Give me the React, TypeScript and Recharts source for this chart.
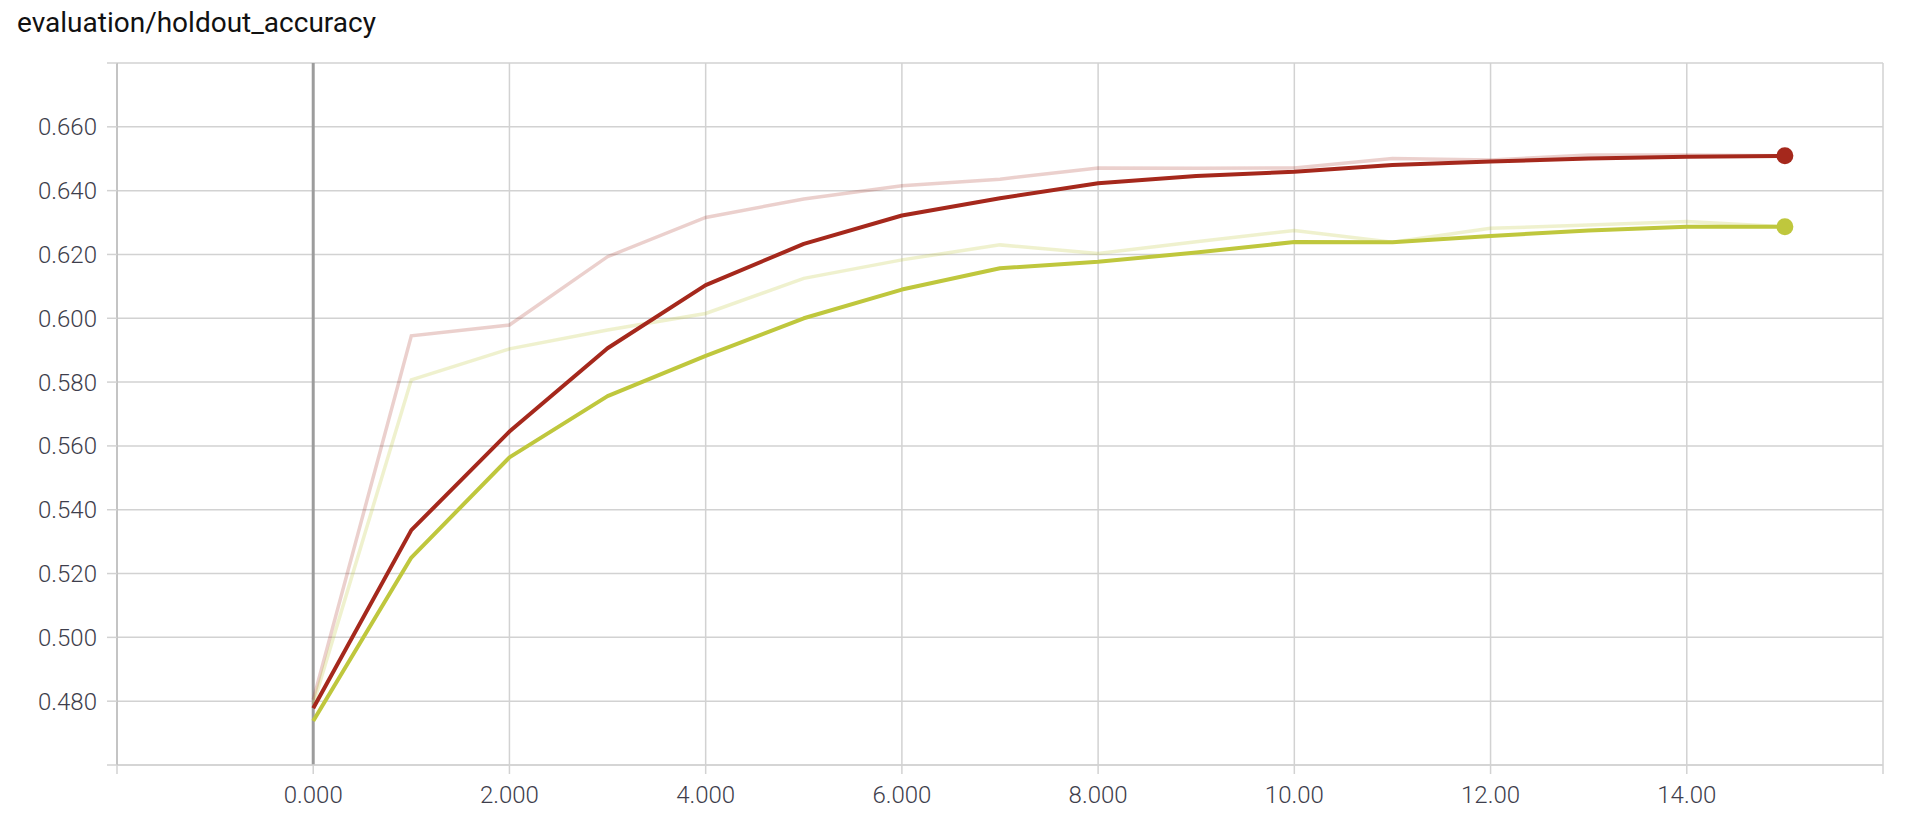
import { LineChart, Line, XAxis, YAxis, CartesianGrid, ReferenceLine } from 'recharts';

// ─── Data ─────────────────────────────────────────────────────────────────────

const steps = [0, 1, 2, 3, 4, 5, 6, 7, 8, 9, 10, 11, 12, 13, 14, 15];

// raw (faint) and smoothed (solid) holdout accuracy per run
const redRaw = [0.4805, 0.5945, 0.5979, 0.6193, 0.6316, 0.6374, 0.6415, 0.6436, 0.6471, 0.647, 0.6471, 0.6501, 0.6496, 0.6512, 0.6512, 0.6509];
const redSmooth = [0.4778, 0.5336, 0.5645, 0.5906, 0.6104, 0.6233, 0.6322, 0.6376, 0.6423, 0.6446, 0.6459, 0.648, 0.6491, 0.6501, 0.6506, 0.6509];
const greenRaw = [0.479, 0.5807, 0.5904, 0.5963, 0.6015, 0.6125, 0.6183, 0.623, 0.6203, 0.624, 0.6275, 0.6238, 0.6282, 0.6292, 0.6303, 0.6287];
const greenSmooth = [0.4738, 0.525, 0.5564, 0.5756, 0.5882, 0.6, 0.609, 0.6157, 0.6177, 0.6206, 0.6239, 0.6238, 0.6258, 0.6275, 0.6287, 0.6287];

const xTicks = [-2, 0, 2, 4, 6, 8, 10, 12, 14, 16];
const yTicks = [0.46, 0.48, 0.5, 0.52, 0.54, 0.56, 0.58, 0.6, 0.62, 0.64, 0.66, 0.68];

// ─── Style ────────────────────────────────────────────────────────────────────

const RED = '#a5281c';
const GREEN = '#bfc73d';
const GRID = '#d2d2d2';
const ZERO = '#9c9c9c';
const TICK_TEXT = '#3e3e4c';
const FONT = 'Roboto, "Liberation Sans", sans-serif';

const data = steps.map((s, i) => ({
  step: s,
  redRaw: redRaw[i],
  redSmooth: redSmooth[i],
  greenRaw: greenRaw[i],
  greenSmooth: greenSmooth[i],
}));

const last = steps.length - 1;

function endDot(color: string) {
  return (props: any) => {
    const { cx, cy, index } = props;
    if (index !== last) return <g key={`d-${index}`} />;
    return <circle key={`d-${index}`} cx={cx} cy={cy} r={8.5} fill={color} stroke="none" />;
  };
}

function fmtX(v: number) {
  if (v < 0 || v > 14) return '';
  return v < 10 ? v.toFixed(3) : v.toFixed(2);
}

function fmtY(v: number) {
  if (v < 0.47 || v > 0.67) return '';
  return v.toFixed(3);
}

export default function App() {
  return (
    <div style={{ position: 'absolute', left: 0, top: 0, width: 1908, height: 816, background: '#fff', fontFamily: FONT }}>
      <div
        style={{
          position: 'absolute',
          left: 17,
          top: 6,
          fontSize: 28,
          lineHeight: '34px',
          color: '#111',
          fontFamily: FONT,
        }}
      >
        evaluation/holdout_accuracy
      </div>

      <LineChart
        width={1908}
        height={816}
        data={data}
        margin={{ top: 63, right: 25, bottom: 0, left: 0 }}
        style={{ position: 'absolute', left: 0, top: 0 }}
      >
        <CartesianGrid stroke={GRID} strokeWidth={1.5} />
        <XAxis
          dataKey="step"
          type="number"
          domain={[-2, 16]}
          ticks={xTicks}
          tickFormatter={fmtX}
          height={51}
          tickSize={9}
          tickMargin={12}
          stroke={GRID}
          axisLine={{ stroke: GRID, strokeWidth: 1.5 }}
          tickLine={{ stroke: GRID, strokeWidth: 1.5 }}
          tick={{ fill: TICK_TEXT, fontSize: 24, fontWeight: 300, fontFamily: FONT }}
          allowDataOverflow
        />
        <YAxis
          type="number"
          domain={[0.46, 0.68]}
          ticks={yTicks}
          tickFormatter={fmtY}
          width={117}
          tickSize={10}
          tickMargin={10}
          axisLine={{ stroke: '#c4c4c4', strokeWidth: 2 }}
          tickLine={{ stroke: GRID, strokeWidth: 1.5 }}
          tick={{ fill: TICK_TEXT, fontSize: 24, fontWeight: 300, fontFamily: FONT }}
          allowDataOverflow
        />
        <ReferenceLine x={0} stroke={ZERO} strokeWidth={3} />

        <Line
          dataKey="redRaw"
          type="linear"
          stroke={RED}
          strokeOpacity={0.22}
          strokeWidth={3.5}
          dot={false}
          activeDot={false}
          isAnimationActive={false}
        />
        <Line
          dataKey="greenRaw"
          type="linear"
          stroke={GREEN}
          strokeOpacity={0.25}
          strokeWidth={3.5}
          dot={false}
          activeDot={false}
          isAnimationActive={false}
        />
        <Line
          dataKey="greenSmooth"
          type="linear"
          stroke={GREEN}
          strokeWidth={4}
          strokeLinejoin="round"
          dot={endDot(GREEN)}
          activeDot={false}
          isAnimationActive={false}
        />
        <Line
          dataKey="redSmooth"
          type="linear"
          stroke={RED}
          strokeWidth={4}
          strokeLinejoin="round"
          dot={endDot(RED)}
          activeDot={false}
          isAnimationActive={false}
        />
      </LineChart>
    </div>
  );
}
